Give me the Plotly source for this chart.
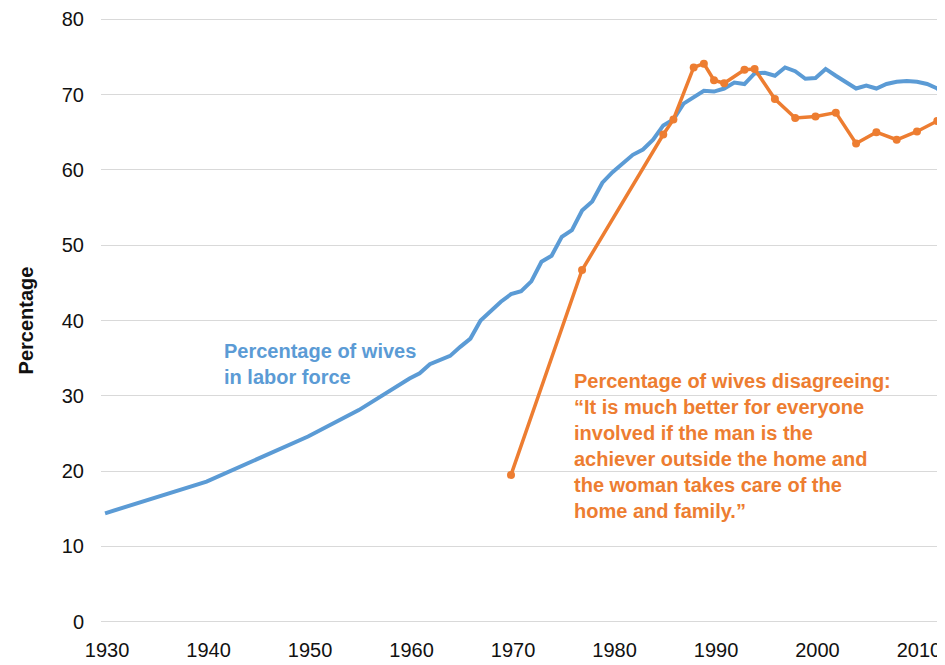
import plotly.graph_objects as go

# wives in labor force (%)
labor_years = [1930, 1940, 1950, 1955, 1960, 1961, 1962, 1963, 1964, 1965, 1966, 1967, 1968, 1969,
               1970, 1971, 1972, 1973, 1974, 1975, 1976, 1977, 1978, 1979, 1980, 1981, 1982, 1983,
               1984, 1985, 1986, 1987, 1988, 1989, 1990, 1991, 1992, 1993, 1994, 1995, 1996, 1997,
               1998, 1999, 2000, 2001, 2002, 2003, 2004, 2005, 2006, 2007, 2008, 2009, 2010, 2011,
               2012, 2013]
labor_pct = [14.4, 18.6, 24.6, 28.1, 32.3, 33.0, 34.2, 34.8, 35.3, 36.5, 37.6, 40.0, 41.2, 42.5,
             43.5, 43.9, 45.2, 47.8, 48.6, 51.1, 52.0, 54.6, 55.8, 58.3, 59.7, 60.9, 62.0, 62.7,
             64.0, 65.9, 66.7, 68.8, 69.7, 70.5, 70.4, 70.8, 71.6, 71.4, 72.8, 72.9, 72.5, 73.6,
             73.1, 72.1, 72.2, 73.4, 72.5, 71.7, 70.8, 71.2, 70.8, 71.4, 71.7, 71.8, 71.7, 71.4,
             70.8, 69.4]

# wives disagreeing with the traditional-roles statement (%)
survey_years = [1970, 1977, 1985, 1986, 1988, 1989, 1990, 1991, 1993, 1994, 1996, 1998, 2000,
                2002, 2004, 2006, 2008, 2010, 2012]
survey_pct = [19.5, 46.7, 64.7, 66.7, 73.6, 74.1, 71.9, 71.5, 73.3, 73.4, 69.4, 66.9, 67.1,
              67.6, 63.5, 65.0, 64.0, 65.1, 66.5]

x_ticks = [1930, 1940, 1950, 1960, 1970, 1980, 1990, 2000, 2010]
y_ticks = [0, 10, 20, 30, 40, 50, 60, 70, 80]

BLUE = "#5B9BD5"
ORANGE = "#ED7D31"
FONT = "Liberation Sans, Arial, sans-serif"

fig = go.Figure()
fig.add_trace(go.Scatter(x=labor_years, y=labor_pct, mode="lines",
                         line=dict(color=BLUE, width=4), name="labor force"))
fig.add_trace(go.Scatter(x=survey_years, y=survey_pct, mode="lines+markers",
                         line=dict(color=ORANGE, width=3.5),
                         marker=dict(color=ORANGE, size=8), name="disagreeing"))

fig.add_annotation(x=1941.5, y=34.2, xref="x", yref="y", xanchor="left", yanchor="middle",
                   align="left", showarrow=False,
                   text="<b>Percentage of wives<br>in labor force</b>",
                   font=dict(family=FONT, size=20, color=BLUE))
fig.add_annotation(x=1976.0, y=23.3, xref="x", yref="y", xanchor="left", yanchor="middle",
                   align="left", showarrow=False,
                   text="<b>Percentage of wives disagreeing:<br>\u201cIt is much better for everyone<br>"
                        "involved if the man is the<br>achiever outside the home and<br>"
                        "the woman takes care of the<br>home and family.\u201d</b>",
                   font=dict(family=FONT, size=20, color=ORANGE))

fig.update_xaxes(range=[1929.6, 2012.76], tickvals=x_ticks, showgrid=False, zeroline=False,
                 showline=False, ticklabelshift=2, ticklabelstandoff=12,
                 tickfont=dict(family=FONT, size=20, color="#111111"))
fig.update_yaxes(range=[-0.3, 80.3], tickvals=y_ticks, showgrid=True, gridcolor="#D9D9D9",
                 gridwidth=1, zeroline=False, showline=False, ticklabelstandoff=16,
                 tickfont=dict(family=FONT, size=20, color="#111111"),
                 title=dict(text="<b>Percentage</b>", standoff=22,
                            font=dict(family=FONT, size=20, color="#111111")))
# page body adds an 8px offset, so the figure is sized to fit the remaining window
fig.update_layout(width=937, height=657, showlegend=False,
                  margin=dict(l=93, r=0, t=9, b=41),
                  paper_bgcolor="white", plot_bgcolor="white")

fig.write_html("out.html")
